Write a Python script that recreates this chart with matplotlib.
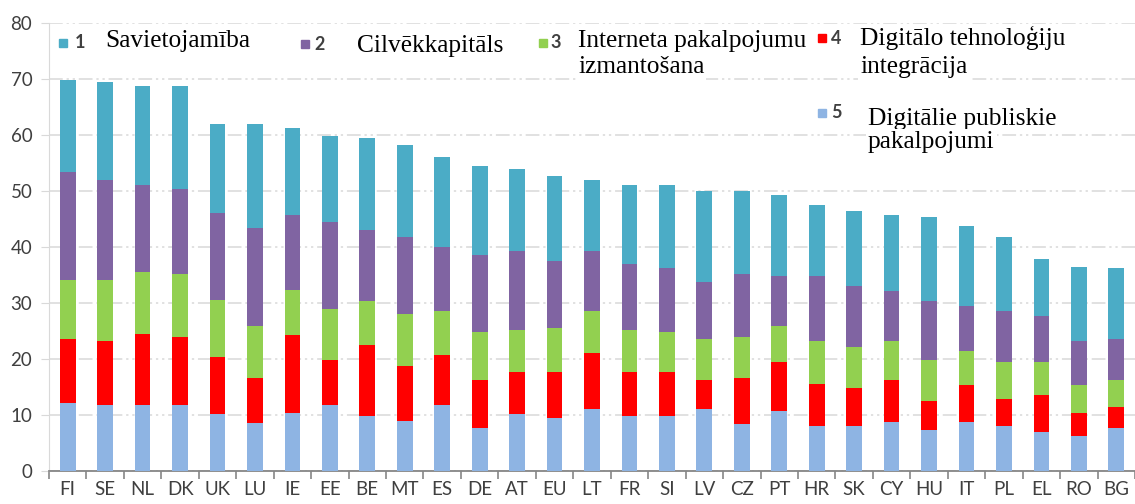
import numpy as np
import matplotlib.pyplot as plt
from matplotlib.patches import Rectangle

# region data
countries = ["FI", "SE", "NL", "DK", "UK", "LU", "IE", "EE", "BE", "MT",
             "ES", "DE", "AT", "EU", "LT", "FR", "SI", "LV", "CZ", "PT",
             "HR", "SK", "CY", "HU", "IT", "PL", "EL", "RO", "BG"]

# 5 Digitālie publiskie pakalpojumi (bottom)
public_services = [12.2, 11.8, 11.8, 11.8, 10.1, 8.6, 10.4, 11.8, 9.8, 9.0,
                   11.8, 7.7, 10.1, 9.4, 11.1, 9.8, 9.8, 11.1, 8.4, 10.7,
                   8.0, 8.0, 8.7, 7.4, 8.7, 8.0, 7.0, 6.2, 7.7]
# 4 Digitālo tehnoloģiju integrācija
integration = [11.3, 11.4, 12.7, 12.1, 10.3, 8.0, 13.8, 8.0, 12.7, 9.7,
               9.0, 8.6, 7.6, 8.3, 10.0, 7.9, 7.9, 5.2, 8.2, 8.7,
               7.6, 6.9, 7.6, 5.1, 6.6, 4.9, 6.6, 4.2, 3.8]
# 3 Interneta pakalpojumu izmantošana
internet_use = [10.6, 10.9, 11.0, 11.2, 10.2, 9.3, 8.2, 9.2, 7.8, 9.3,
                7.8, 8.6, 7.5, 7.8, 7.5, 7.5, 7.2, 7.2, 7.3, 6.5,
                7.6, 7.2, 6.9, 7.3, 6.2, 6.5, 5.8, 4.9, 4.8]
# 2 Cilvēkkapitāls
human_capital = [19.3, 17.8, 15.5, 15.2, 15.5, 17.5, 13.4, 15.4, 12.8, 13.7,
                 11.4, 13.7, 14.1, 12.0, 10.7, 11.7, 11.3, 10.3, 11.2, 8.9,
                 11.6, 11.0, 8.9, 10.5, 7.9, 9.2, 8.2, 7.9, 7.2]
# 1 Savietojamība (top)
connectivity = [16.5, 17.6, 17.8, 18.5, 15.8, 18.5, 15.5, 15.5, 16.4, 16.5,
                16.1, 15.8, 14.7, 15.1, 12.6, 14.1, 14.8, 16.2, 14.9, 14.5,
                12.7, 13.4, 13.7, 15.1, 14.3, 13.1, 10.3, 13.3, 12.7]
# endregion

W, H = 1135, 504


def px(x, y):
    # pixel position (from top-left) to figure fraction
    return x / W, 1 - y / H


series = [public_services, integration, internet_use, human_capital, connectivity]
colors = ["#8EB4E3", "#FF0000", "#92D050", "#8064A2", "#4BACC6"]

fig = plt.figure(figsize=(W / 100, H / 100), dpi=100)
ax = fig.add_axes([49 / W, 1 - 471 / H, (W - 49) / W, (471 - 23) / H])

x = np.arange(len(countries))
bottom = np.zeros(len(countries))
for vals, col in zip(series, colors):
    ax.bar(x, vals, width=0.42, bottom=bottom, color=col, zorder=3)
    bottom += np.array(vals)

ax.set_xlim(-0.5, -0.5 + (W - 49) / 37.75)
ax.set_ylim(0, 80)
ax.set_yticks(range(0, 81, 10))
ax.yaxis.grid(True, color="#D9D9D9", linewidth=1.1,
              linestyle=(0, (9, 2.5, 1.5, 2.5, 1.5, 2.5)), zorder=0)
ax.set_xticks(x)
ax.set_xticklabels(countries)
ax.set_xticks(np.arange(-0.5, len(countries), 1), minor=True)
ax.tick_params(axis="x", which="major", length=0, pad=7,
               labelsize=13.5, labelcolor="#3F3F3F")
ax.tick_params(axis="x", which="minor", length=6, width=1.2, color="#868686")
ax.tick_params(axis="y", length=6, color="#D9D9D9", pad=6,
               labelsize=13.5, labelcolor="#3F3F3F")
for lab in ax.get_xticklabels() + ax.get_yticklabels():
    lab.set_family("Lato")

for s in ["top", "right"]:
    ax.spines[s].set_visible(False)
ax.spines["left"].set_color("#D9D9D9")
ax.spines["bottom"].set_color("#868686")
ax.spines["bottom"].set_linewidth(1.3)

# legend: colour squares with numbers, plus serif captions
keys = [("1", 63, 43, 80), ("2", 305, 44, 320), ("3", 543, 43, 556),
        ("4", 822, 38, 836), ("5", 822, 113, 836)]
for (num, mx, my, nx), col in zip(keys, colors[::-1]):
    x0, y0 = px(mx - 4, my + 4)
    fig.add_artist(Rectangle((x0, y0), 8 / W, 8 / H, transform=fig.transFigure,
                             color=col, zorder=5))
    fx, fy = px(nx, my)
    fig.text(fx, fy, num, ha="center", va="center", fontsize=13,
             fontweight="bold", family="Lato", color="#404040", zorder=5)

captions = [("Savietojamība", 105, 47), ("Cilvēkkapitāls", 357, 52),
            ("Interneta pakalpojumu", 578, 47), ("izmantošana", 578, 73),
            ("Digitālo tehnoloģiju", 860, 45), ("integrācija", 860, 73),
            ("Digitālie publiskie", 868, 125), ("pakalpojumi", 868, 148)]
for txt, cx, cy in captions:
    fx, fy = px(cx, cy)
    fig.text(fx, fy, txt, ha="left", va="baseline", fontsize=18.3,
             family="Liberation Serif", color="black", zorder=6,
             bbox=dict(facecolor="white", edgecolor="none", pad=1.5))

fig.savefig("out.png", dpi=100)
